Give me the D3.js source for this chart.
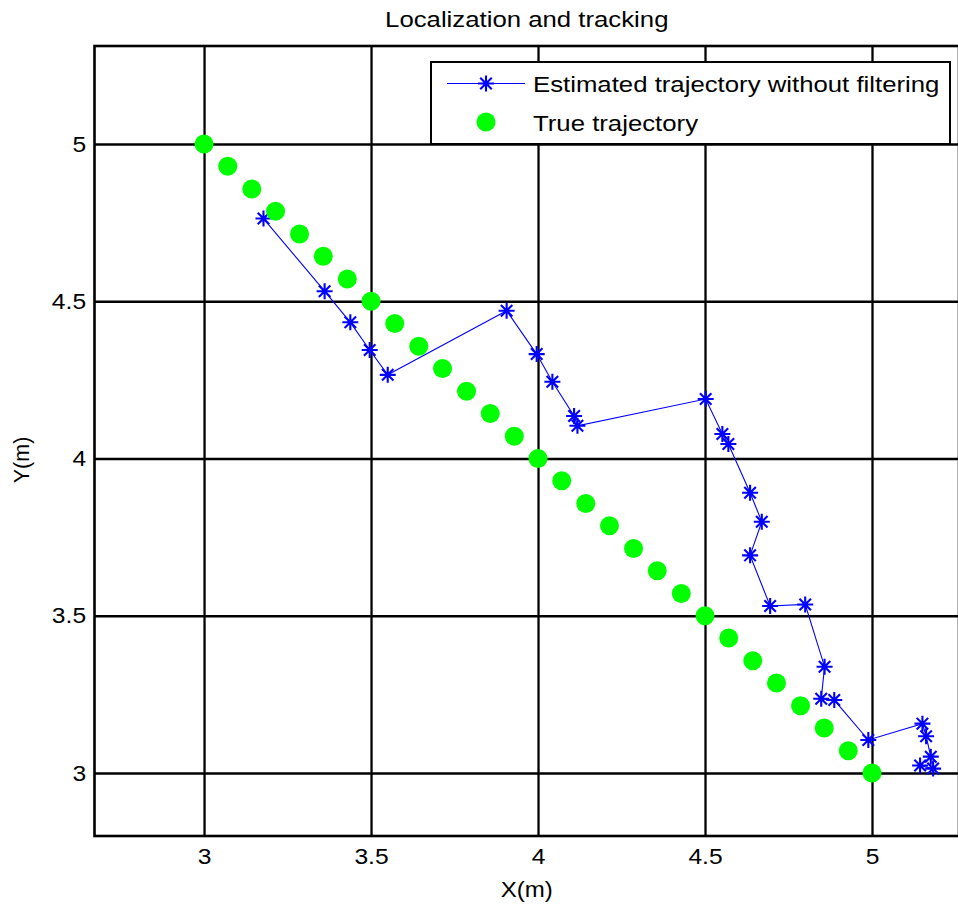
<!DOCTYPE html>
<html>
<head>
<meta charset="utf-8">
<script src="https://cdn.jsdelivr.net/npm/d3@7"></script>
<style>
  html, body { margin: 0; padding: 0; background: #fff; }
  svg { display: block; }
  text { font-family: "Liberation Sans", Arial, Helvetica, sans-serif; fill: #000; }
</style>
</head>
<body>
<svg id="chart" width="958" height="909"></svg>
<script>
// ---------- data ----------
const estX = [3.178, 3.361, 3.438, 3.496, 3.550, 3.906, 3.996, 4.043, 4.108, 4.118,
              4.502, 4.552, 4.570, 4.635, 4.670, 4.635, 4.695, 4.800, 4.858, 4.848,
              4.887, 4.989, 5.151, 5.162, 5.176, 5.144, 5.183];
const estY = [4.763, 4.532, 4.433, 4.345, 4.266, 4.470, 4.332, 4.244, 4.135, 4.104,
              4.189, 4.078, 4.046, 3.891, 3.799, 3.692, 3.531, 3.536, 3.338, 3.236,
              3.232, 3.105, 3.157, 3.117, 3.052, 3.024, 3.014];
const trueX = [3.000, 3.071, 3.143, 3.214, 3.286, 3.357, 3.429, 3.500, 3.571, 3.643,
               3.714, 3.786, 3.857, 3.929, 4.000, 4.071, 4.143, 4.214, 4.286, 4.357,
               4.429, 4.500, 4.571, 4.643, 4.714, 4.786, 4.857, 4.929, 5.000];
const trueY = [5.000, 4.929, 4.857, 4.786, 4.714, 4.643, 4.571, 4.500, 4.429, 4.357,
               4.286, 4.214, 4.143, 4.071, 4.000, 3.929, 3.857, 3.786, 3.714, 3.643,
               3.571, 3.500, 3.429, 3.357, 3.286, 3.214, 3.143, 3.071, 3.000];
const xTicks = [3, 3.5, 4, 4.5, 5];
const yTicks = [3, 3.5, 4, 4.5, 5];
const seriesNames = ["Estimated trajectory without filtering", "True trajectory"];
const titleText = "Localization and tracking";
const xLabel = "X(m)";
const yLabel = "Y(m)";

// ---------- layout ----------
const L = 94.5, R = 959, T = 46, B = 836;
const xDomain = [2.672, 5.2605], yDomain = [2.7997, 5.3116];
const STRETCH = 1.12;
const blue = "#0000ff", green = "#00ff00";

const svg = d3.select("#chart");
const x = d3.scaleLinear().domain(xDomain).range([L, R]);
const y = d3.scaleLinear().domain(yDomain).range([B, T]);

// grid via axes
const gx = svg.append("g").attr("transform", `translate(0,${B})`)
  .call(d3.axisBottom(x).tickValues(xTicks).tickSize(-(B - T)).tickFormat(""));
gx.select(".domain").remove();
gx.selectAll("line").attr("stroke", "#000").attr("stroke-width", 2.3);

const gy = svg.append("g").attr("transform", `translate(${L},0)`)
  .call(d3.axisLeft(y).tickValues(yTicks).tickSize(-(R - L)).tickFormat(""));
gy.select(".domain").remove();
gy.selectAll("line").attr("stroke", "#000").attr("stroke-width", 2.3);

// tick labels via axes
const lx = svg.append("g").attr("transform", `translate(0,${B})`)
  .call(d3.axisBottom(x).tickValues(xTicks).tickSize(0).tickPadding(12).tickFormat(d3.format("~g")));
lx.select(".domain").remove();
lx.selectAll("text").attr("font-size", 22).attr("font-family", "Liberation Sans, Arial, sans-serif")
  .attr("fill", "#000").attr("transform", `scale(${STRETCH},1)`);

const ly = svg.append("g").attr("transform", `translate(${L},0)`)
  .call(d3.axisLeft(y).tickValues(yTicks).tickSize(0).tickPadding(7.5).tickFormat(d3.format("~g")));
ly.select(".domain").remove();
ly.selectAll("text").attr("font-size", 22).attr("font-family", "Liberation Sans, Arial, sans-serif")
  .attr("fill", "#000").attr("transform", `scale(${STRETCH},1)`);

// plot border
svg.append("rect").attr("x", L).attr("y", T).attr("width", R - L).attr("height", B - T)
  .attr("fill", "none").attr("stroke", "#000").attr("stroke-width", 2.6);

// star marker path generator
function starPath(cx, cy, s) {
  const d = s * 0.72;
  return `M${cx - s},${cy}L${cx + s},${cy}M${cx},${cy - s}L${cx},${cy + s}` +
         `M${cx - d},${cy - d}L${cx + d},${cy + d}M${cx - d},${cy + d}L${cx + d},${cy - d}`;
}

// estimated trajectory
const estPts = estX.map((v, i) => [v, estY[i]]);
svg.append("path").datum(estPts)
  .attr("d", d3.line().x(d => x(d[0])).y(d => y(d[1])))
  .attr("fill", "none").attr("stroke", blue).attr("stroke-width", 1.1);
svg.append("g").selectAll("path").data(estPts).join("path")
  .attr("d", d => starPath(x(d[0]), y(d[1]), 8))
  .attr("fill", "none").attr("stroke", blue).attr("stroke-width", 2.1);

// true trajectory
const truePts = trueX.map((v, i) => [v, trueY[i]]);
svg.append("g").selectAll("circle").data(truePts).join("circle")
  .attr("cx", d => x(d[0])).attr("cy", d => y(d[1])).attr("r", 9.5)
  .attr("fill", green);

// title and axis labels
function stretchedText(tx, ty, str, size, anchor) {
  svg.append("text").attr("transform", `translate(${tx},${ty}) scale(${STRETCH},1)`)
    .attr("text-anchor", anchor).attr("font-size", size).text(str);
}
stretchedText((L + R) / 2, 27, titleText, 23, "middle");
stretchedText((L + R) / 2, 897, xLabel, 21.5, "middle");
svg.append("text").attr("transform", `translate(29,460) rotate(-90)`)
  .attr("text-anchor", "middle").attr("font-size", 21.5).text(yLabel);

// legend
const lg = svg.append("g");
lg.append("rect").attr("x", 431).attr("y", 62).attr("width", 519).attr("height", 82)
  .attr("fill", "#fff").attr("stroke", "#000").attr("stroke-width", 2);
lg.append("line").attr("x1", 447).attr("x2", 525).attr("y1", 83.5).attr("y2", 83.5)
  .attr("stroke", blue).attr("stroke-width", 1.1);
lg.append("path").attr("d", starPath(486, 83.5, 8)).attr("fill", "none")
  .attr("stroke", blue).attr("stroke-width", 2.1);
lg.append("circle").attr("cx", 486).attr("cy", 122).attr("r", 9.5).attr("fill", green);
lg.append("text").attr("transform", `translate(533,92) scale(${STRETCH},1)`)
  .attr("font-size", 23).text(seriesNames[0]);
lg.append("text").attr("transform", `translate(533,130.5) scale(${STRETCH},1)`)
  .attr("font-size", 23).text(seriesNames[1]);
</script>
</body>
</html>
